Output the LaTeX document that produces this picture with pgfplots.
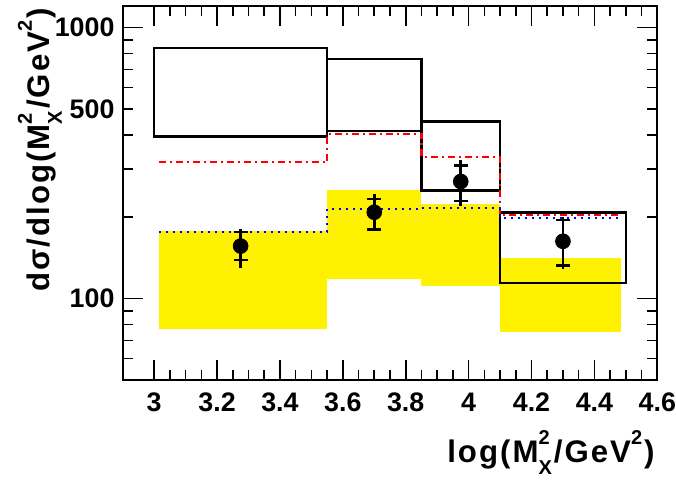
\documentclass[border=0pt]{standalone}
\usepackage{fontspec}
\setmainfont{Liberation Sans}
\newfontfamily\labfont[LetterSpace=6.5]{Liberation Sans}
\usepackage{pgfplots}
\pgfplotsset{compat=1.18}
\usetikzlibrary{calc}
\newcommand{\sps}[1]{\raisebox{9pt}{\fontsize{10}{10}\selectfont #1}}
\newcommand{\sbs}[1]{\raisebox{-6pt}{\fontsize{10}{10}\selectfont #1}}
\newcommand{\MX}{M\rlap{\sps{2}}\sbs{X}\hspace{1pt}}
\newcommand{\lab}{\labfont\bfseries\fontsize{15.6}{17}\selectfont}
\begin{document}
\begin{tikzpicture}
\begin{axis}[
  scale only axis, width=267.3pt, height=187pt,
  xmin=2.9, xmax=4.6, ymode=log, ymin=50, ymax=1200,
  xtick={3,3.2,3.4,3.6,3.8,4,4.2,4.4,4.6},
  xticklabels={3,3.2,3.4,3.6,3.8,4,4.2,4.4,4.6},
  minor x tick num=3,
  ytick={100,1000}, yticklabels={100,1000},
  extra y ticks={500}, extra y tick labels={500},
  extra y tick style={major tick length=5pt},
  minor ytick={50,60,70,80,90,200,300,400,600,700,800,900},
  major tick length=10pt, minor tick length=5pt,
  every tick/.style={black, line width=0.8pt},
  axis line style={line width=1pt},
  tick align=inside,
  ticklabel style={font=\bfseries\fontsize{13.4}{15}\selectfont},
  /pgf/number format/assume math mode=true,
  xticklabel style={yshift=-3.1pt},
  yticklabel style={xshift=-0.6pt},
  xlabel={\lab log(\MX/GeV\sps{2}\hspace{1pt})},
  ylabel={\lab dσ/dlog(\MX/GeV\sps{2}\hspace{1pt})},
  xlabel style={at={(axis description cs:0.9957,-0.2219)}, anchor=base east, inner sep=0pt},
  ylabel style={at={(axis description cs:-0.136,0.995)}, anchor=base east, inner sep=0pt},
]
% yellow bands
\addplot[fill=yellow, draw=none, forget plot] coordinates {(3.015,77) (3.55,77) (3.55,178) (3.015,178)} --cycle;
\addplot[fill=yellow, draw=none, forget plot] coordinates {(3.55,117.5) (3.85,117.5) (3.85,251) (3.55,251)} --cycle;
\addplot[fill=yellow, draw=none, forget plot] coordinates {(3.85,111) (4.10,111) (4.10,224) (3.85,224)} --cycle;
\addplot[fill=yellow, draw=none, forget plot] coordinates {(4.10,75) (4.485,75) (4.485,141) (4.10,141)} --cycle;
% open boxes
\addplot[black, line width=1.3pt, forget plot] coordinates {(3.0,395) (3.55,395) (3.55,839) (3.0,839)} --cycle;
\addplot[black, line width=1.3pt, forget plot] coordinates {(3.55,415) (3.85,415) (3.85,766) (3.55,766)} --cycle;
\addplot[black, line width=1.3pt, forget plot] coordinates {(3.85,250) (4.10,250) (4.10,450) (3.85,450)} --cycle;
\addplot[black, line width=1.3pt, forget plot] coordinates {(4.10,114) (4.50,114) (4.50,207) (4.10,207)} --cycle;
% red dash-dot
\addplot[red, line width=1.2pt, const plot, dash pattern=on 3.5pt off 2pt on 1pt off 2pt] coordinates {(3.015,318) (3.55,404) (3.85,333) (4.10,203) (4.485,203)};
% blue dotted
\addplot[blue, line width=1.1pt, const plot, dash pattern=on 1pt off 2.5pt] coordinates {(3.015,176) (3.55,214) (3.85,215) (4.10,198) (4.485,198)};
% total errors
\addplot[draw=none, mark=none, error bars/.cd, y dir=both, y explicit, error mark=none, error bar style={black, line width=1.3pt}]
 coordinates {(3.275,156) += (0,24) -= (0,27)
              (3.70,208) += (0,34) -= (0,31)
              (3.975,270) += (0,53) -= (0,51)
              (4.30,162.5) += (0,36.5) -= (0,34.5)};
% stat errors and points
\addplot[only marks, mark=*, mark size=3.7pt, black, error bars/.cd, y dir=both, y explicit, error mark=-, error bar style={black, line width=1.3pt}, error mark options={rotate=90, black, mark size=3.5pt, line width=1.3pt}]
 coordinates {(3.275,156) += (0,20) -= (0,17.4)
              (3.70,208) += (0,25) -= (0,28)
              (3.975,270) += (0,39) -= (0,41)
              (4.30,162.5) += (0,32.5) -= (0,30.5)};
\end{axis}
\pgfresetboundingbox
\path[use as bounding box] ($(current axis.south west)+(-61.35pt,-50pt)$) rectangle ($(current axis.north east)+(9.35pt,3pt)$);
\end{tikzpicture}
\end{document}
